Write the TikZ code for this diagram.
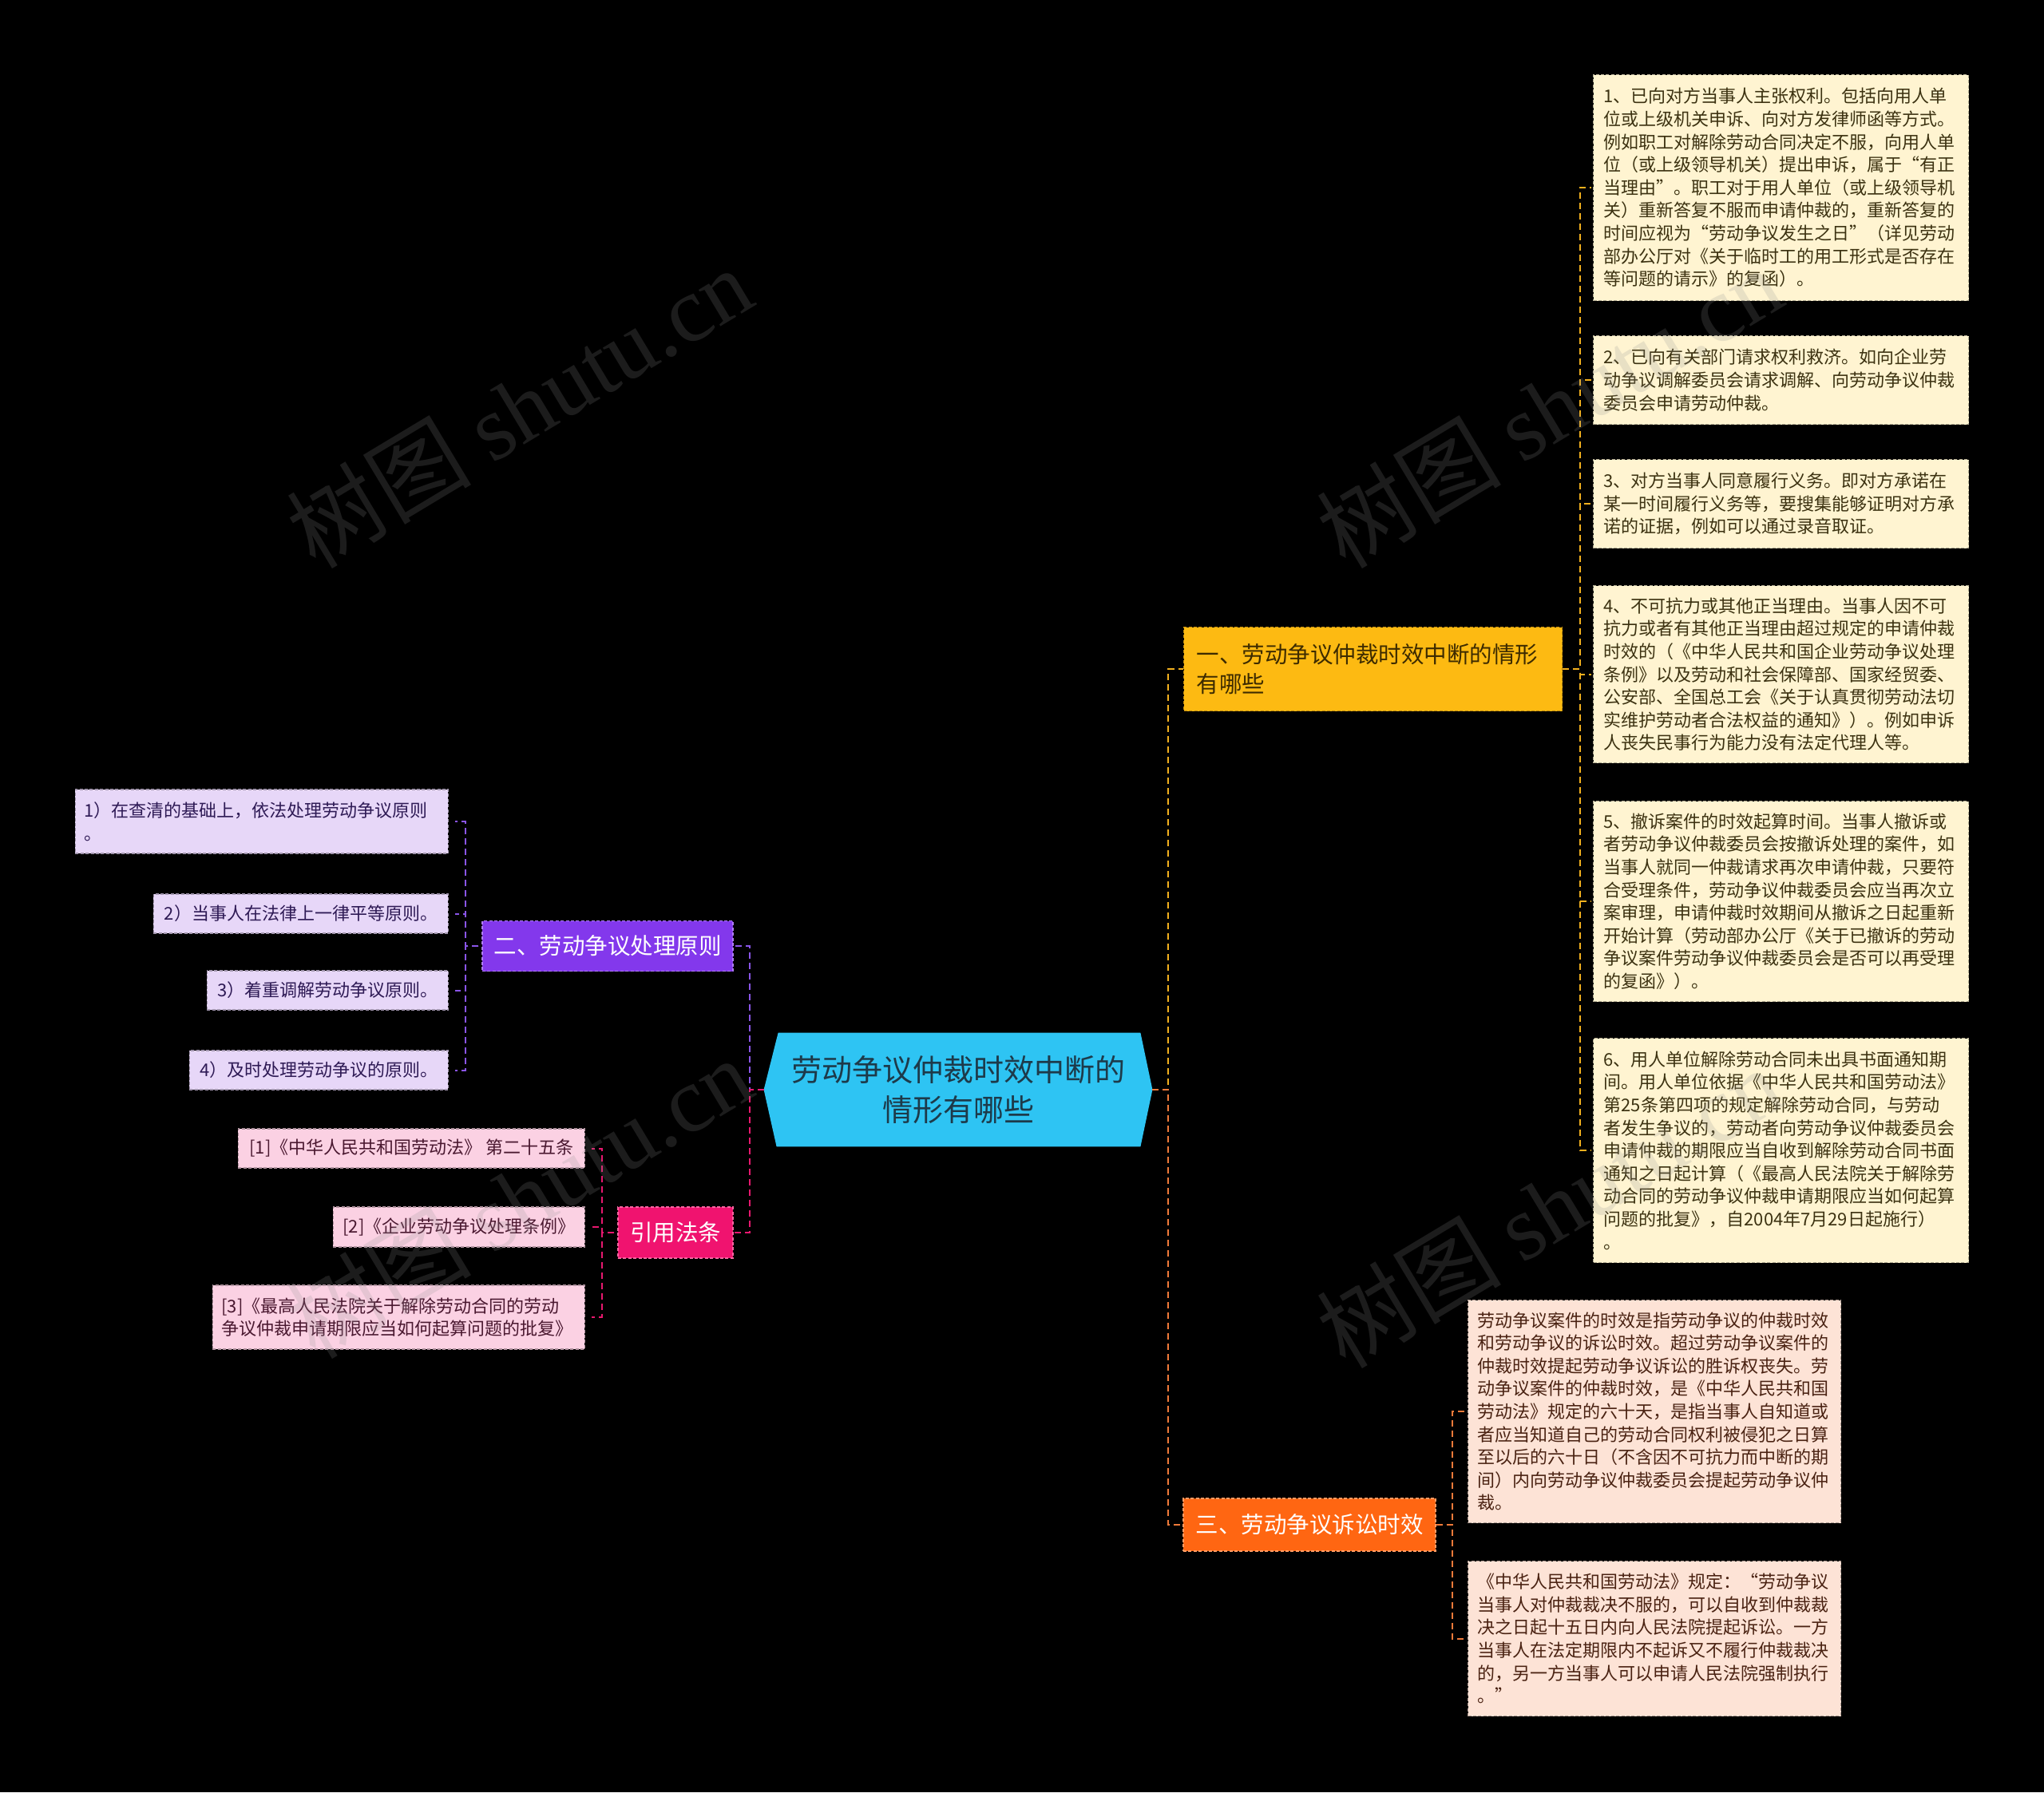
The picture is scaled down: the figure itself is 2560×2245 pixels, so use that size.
\documentclass[tikz,border=0pt]{standalone}
\usepackage{fontspec}
\setmainfont{Noto Sans CJK SC}
\newfontfamily\wmlat{Liberation Serif}
\usetikzlibrary{backgrounds}
\definecolor{rootc}{HTML}{2EC4F3}
\definecolor{roottxt}{HTML}{1D3A4A}
\definecolor{ybrc}{HTML}{FDBA12}
\definecolor{ybrtxt}{HTML}{3D2B00}
\definecolor{pbrc}{HTML}{8338EC}
\definecolor{kbrc}{HTML}{F0136F}
\definecolor{obrc}{HTML}{FF6612}
\definecolor{ycream}{HTML}{FFF4D1}
\definecolor{ytxt}{HTML}{3C3211}
\definecolor{plav}{HTML}{E7D7F8}
\definecolor{ptxt}{HTML}{2E1A55}
\definecolor{kpink}{HTML}{FBD1E3}
\definecolor{ktxt}{HTML}{4A1830}
\definecolor{opeach}{HTML}{FDE3D6}
\definecolor{otxt}{HTML}{4A2212}
\definecolor{lyel}{HTML}{F2B01E}
\definecolor{lpur}{HTML}{8A55E8}
\definecolor{lpink}{HTML}{E8186F}
\definecolor{lorg}{HTML}{F07A3A}
\definecolor{wmc}{HTML}{909090}
\begin{document}
\begin{tikzpicture}[x=0.5pt,y=-0.5pt,
  conn/.style={line width=1pt, dash pattern=on 4pt off 2.5pt},
  cyel/.style={conn, draw=lyel},
  cpur/.style={conn, draw=lpur},
  cpink/.style={conn, draw=lpink},
  corg/.style={conn, draw=lorg},
  det/.style={draw, line width=0.6pt, dash pattern=on 2pt off 1.2pt,
    font=\fontsize{11}{14.3}\selectfont, inner ysep=0pt, align=left},
  ydet/.style={det, draw=ycream!70!black, fill=ycream, text=ytxt, text width=222pt, inner xsep=6.5pt, anchor=north west},
  odet/.style={det, draw=opeach!70!black, fill=opeach, text=otxt, text width=221.5pt, inner xsep=6pt, anchor=north west},
  pdet/.style={det, draw=plav!70!black, fill=plav, text=ptxt, inner xsep=5.5pt, anchor=east},
  kdet/.style={det, draw=kpink!70!black, fill=kpink, text=ktxt, inner xsep=5.5pt, anchor=east},
  brbox/.style={line width=0.7pt, dash pattern=on 2pt off 1.2pt,
    font=\fontsize{14.25}{18.8}\selectfont, inner xsep=2pt, inner ysep=0pt},
  rootst/.style={font=\fontsize{19}{25.3}\selectfont, text=roottxt, align=center,
    minimum width=243pt, minimum height=71pt, inner sep=0pt},
  wm/.style={font=\fontsize{58}{66}\selectfont, text=wmc, text opacity=0.2, rotate=31, inner sep=0pt}
]
\useasboundingbox (0,0) rectangle (2560,2245);
\begin{scope}[on background layer]
  \fill[black] (0,0) rectangle (2560,2245);
\end{scope}

% root
\node[rootst] (root) at (1200,1365) {劳动争议仲裁时效中断的\\情形有哪些};
\begin{scope}[on background layer]
  \fill[rootc] (root.west) -- ([xshift=9pt]root.north west) -- ([xshift=-7.5pt]root.north east)
    -- (root.east) -- ([xshift=-7.5pt]root.south east) -- ([xshift=8pt]root.south west) -- cycle;
\end{scope}

% branches
\node[brbox, draw=ybrc!75!black, fill=ybrc, text=ybrtxt, anchor=north west, align=left,
  text width=221pt, inner xsep=8pt, minimum height=52.5pt] (b1) at (1482,785)
  {一、劳动争议仲裁时效中断的情形\\有哪些};
\node[brbox, draw=pbrc!65!white, fill=pbrc, text=white, minimum width=157pt, minimum height=31.5pt] (p) at (761,1185) {二、劳动争议处理原则};
\node[brbox, draw=kbrc!65!white, fill=kbrc, text=white, minimum width=72pt, minimum height=32pt] (r) at (846,1544) {引用法条};
\node[brbox, draw=obrc!65!white, fill=obrc, text=white, minimum width=158pt, minimum height=33pt] (b3) at (1640,1910) {三、劳动争议诉讼时效};

% right details (yellow)
\node[ydet, minimum height=141.5pt] (d1) at (1995,93) {1、已向对方当事人主张权利。包括向用人单\\位或上级机关申诉、向对方发律师函等方式。\\例如职工对解除劳动合同决定不服，向用人单\\位（或上级领导机关）提出申诉，属于“有正\\当理由”。职工对于用人单位（或上级领导机\\关）重新答复不服而申请仲裁的，重新答复的\\时间应视为“劳动争议发生之日”（详见劳动\\部办公厅对《关于临时工的用工形式是否存在\\等问题的请示》的复函）。};
\node[ydet, minimum height=55.5pt] (d2) at (1995,420) {2、已向有关部门请求权利救济。如向企业劳\\动争议调解委员会请求调解、向劳动争议仲裁\\委员会申请劳动仲裁。};
\node[ydet, minimum height=55.5pt] (d3) at (1995,575) {3、对方当事人同意履行义务。即对方承诺在\\某一时间履行义务等，要搜集能够证明对方承\\诺的证据，例如可以通过录音取证。};
\node[ydet, minimum height=111pt] (d4) at (1995,733) {4、不可抗力或其他正当理由。当事人因不可\\抗力或者有其他正当理由超过规定的申请仲裁\\时效的（《中华人民共和国企业劳动争议处理\\条例》以及劳动和社会保障部、国家经贸委、\\公安部、全国总工会《关于认真贯彻劳动法切\\实维护劳动者合法权益的通知》）。例如申诉\\人丧失民事行为能力没有法定代理人等。};
\node[ydet, minimum height=125.5pt] (d5) at (1995,1003) {5、撤诉案件的时效起算时间。当事人撤诉或\\者劳动争议仲裁委员会按撤诉处理的案件，如\\当事人就同一仲裁请求再次申请仲裁，只要符\\合受理条件，劳动争议仲裁委员会应当再次立\\案审理，申请仲裁时效期间从撤诉之日起重新\\开始计算（劳动部办公厅《关于已撤诉的劳动\\争议案件劳动争议仲裁委员会是否可以再受理\\的复函》）。};
\node[ydet, minimum height=140.5pt] (d6) at (1995,1300) {6、用人单位解除劳动合同未出具书面通知期\\间。用人单位依据《中华人民共和国劳动法》\\第25条第四项的规定解除劳动合同，与劳动\\者发生争议的，劳动者向劳动争议仲裁委员会\\申请仲裁的期限应当自收到解除劳动合同书面\\通知之日起计算（《最高人民法院关于解除劳\\动合同的劳动争议仲裁申请期限应当如何起算\\问题的批复》，自2004年7月29日起施行）\\。};

% orange details
\node[odet, minimum height=139.5pt] (e1) at (1838,1628) {劳动争议案件的时效是指劳动争议的仲裁时效\\和劳动争议的诉讼时效。超过劳动争议案件的\\仲裁时效提起劳动争议诉讼的胜诉权丧失。劳\\动争议案件的仲裁时效，是《中华人民共和国\\劳动法》规定的六十天，是指当事人自知道或\\者应当知道自己的劳动合同权利被侵犯之日算\\至以后的六十日（不含因不可抗力而中断的期\\间）内向劳动争议仲裁委员会提起劳动争议仲\\裁。};
\node[odet, minimum height=97pt] (e2) at (1838,1955) {《中华人民共和国劳动法》规定：“劳动争议\\当事人对仲裁裁决不服的，可以自收到仲裁裁\\决之日起十五日内向人民法院提起诉讼。一方\\当事人在法定期限内不起诉又不履行仲裁裁决\\的，另一方当事人可以申请人民法院强制执行\\。”};

% purple details
\node[pdet, text width=222.5pt, minimum height=40pt] (c1) at (562,1029) {1）在查清的基础上，依法处理劳动争议原则\\。};
\node[pdet, minimum width=184.5pt, minimum height=24.5pt] (c2) at (562,1144.5) {2）当事人在法律上一律平等原则。};
\node[pdet, minimum width=151pt, minimum height=24.5pt] (c3) at (562,1240.5) {3）着重调解劳动争议原则。};
\node[pdet, minimum width=162pt, minimum height=24.5pt] (c4) at (562,1340.5) {4）及时处理劳动争议的原则。};

% pink details
\node[kdet, minimum width=217pt, minimum height=24.5pt] (k1) at (733,1438.5) {[1]《中华人民共和国劳动法》 第二十五条};
\node[kdet, minimum width=157.5pt, minimum height=25pt] (k2) at (733,1537) {[2]《企业劳动争议处理条例》};
\node[kdet, text width=222pt, minimum height=40pt] (k3) at (733,1650) {[3]《最高人民法院关于解除劳动合同的劳动\\争议仲裁申请期限应当如何起算问题的批复》};

% junction coordinates
\coordinate (lv) at (939,0);
\coordinate (rv) at (1463,0);
\coordinate (pv) at (583,0);
\coordinate (kv) at (754,0);
\coordinate (yv) at (1979,0);
\coordinate (ov) at (1819,0);

% connectors root -> branches
\draw[cpur] (root.west) -- (root.west -| lv) |- (p.east);
\draw[cpink] (root.west) -- (root.west -| lv) |- (r.east);
\draw[cyel] (root.east) -- (root.east -| rv) |- (b1.west);
\draw[corg] (root.east) -- (root.east -| rv) |- (b3.west);

% branch -> details
\foreach \c in {d1,d2,d3,d4,d5,d6}
  \draw[cyel, shorten >=1pt] (b1.east) -- (b1.east -| yv) |- (\c.west);
\foreach \c in {e1,e2}
  \draw[corg, shorten >=2pt] (b3.east) -- (b3.east -| ov) |- (\c.west);
\foreach \c in {c1,c2,c3,c4}
  \draw[cpur, shorten <=2pt, shorten >=4pt] (p.west) -- (p.west -| pv) |- (\c.east);
\foreach \c in {k1,k2,k3}
  \draw[cpink, shorten <=2pt, shorten >=4pt] (r.west) -- (r.west -| kv) |- (\c.east);

% watermarks
\node[wm] (w1) at (650,510) {树图 {\wmlat shutu.cn}};
\node[wm] (w2) at (1940,510) {树图 {\wmlat shutu.cn}};
\node[wm] (w3) at (650,1500) {树图 {\wmlat shutu.cn}};
\node[wm] (w4) at (1940,1512) {树图 {\wmlat shutu.cn}};
\end{tikzpicture}
\end{document}
